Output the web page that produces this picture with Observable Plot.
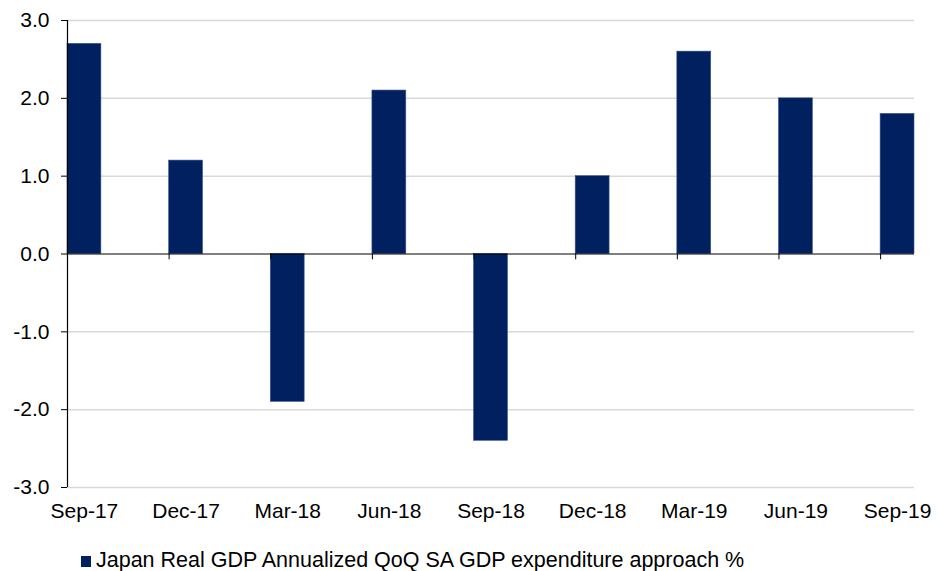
<!DOCTYPE html>
<html>
<head>
<meta charset="utf-8">
<script src="https://cdn.jsdelivr.net/npm/d3@7"></script>
<script src="https://cdn.jsdelivr.net/npm/@observablehq/plot@0.6"></script>
<style>
  html, body { margin: 0; padding: 0; background: #fff; }
  body { width: 946px; height: 571px; overflow: hidden; font-family: "Liberation Sans", Arial, sans-serif; position: relative; }
  #sw { position: absolute; left: 81px; top: 556px; width: 10px; height: 11px; background: #002060; }
  #legtext { position: absolute; left: 96px; top: 550px; font-size: 21.5px; line-height: 1; color: #000; white-space: nowrap; }
</style>
</head>
<body>
<div id="chart"></div>
<div id="sw"></div><div id="legtext"></div>
<script>
const quarters = ["Sep-17", "Dec-17", "Mar-18", "Jun-18", "Sep-18", "Dec-18", "Mar-19", "Jun-19", "Sep-19"];
const gdp = [2.7, 1.2, -1.9, 2.1, -2.4, 1.0, 2.6, 2.0, 1.8];
const yTicks = [-3, -2, -1, 0, 1, 2, 3];
const seriesName = "Japan Real GDP Annualized QoQ SA GDP expenditure approach %";

const barFrac = 1 / 3;
const data = quarters.map((q, i) => ({ q, i, value: gdp[i] }));
const tickIdx = quarters.map((q, i) => i).slice(1);

document.getElementById("legtext").textContent = seriesName;

const chart = Plot.plot({
  width: 946,
  height: 535,
  marginLeft: 67,
  marginRight: 32,
  marginTop: 20,
  marginBottom: 48,
  style: { fontFamily: "Liberation Sans, Arial, sans-serif", fontSize: "21px", color: "#000", background: "#fff" },
  x: { type: "linear", domain: [0, quarters.length - 1 + barFrac] },
  y: { domain: [-3, 3] },
  marks: [
    Plot.ruleY(yTicks.filter(d => d !== 0), { stroke: "#d9d9d9", strokeWidth: 1.5 }),
    Plot.rectY(data, { x1: "i", x2: d => d.i + barFrac, y: "value", fill: "#002060", stroke: "#3a5587", strokeWidth: 0.6 }),
    Plot.ruleY([0], { stroke: "#000", strokeWidth: 1 }),
    Plot.ruleX(tickIdx, { y1: 0, y2: -0.075, stroke: "#000", strokeWidth: 1 }),
    Plot.ruleX([0], { y1: -3, y2: 3, stroke: "#000", strokeWidth: 1.2 }),
    Plot.axisY({ ticks: yTicks, tickFormat: d => d.toFixed(1), tickSize: 6, tickPadding: 12, fontSize: 21, label: null, stroke: "#000" }),
    Plot.axisX({ ticks: quarters.map((q, i) => i + barFrac / 2), tickFormat: d => quarters[Math.round(d - barFrac / 2)], tickSize: 0, tickPadding: 16, fontSize: 21, label: null })
  ]
});
document.getElementById("chart").appendChild(chart);
</script>
</body>
</html>
